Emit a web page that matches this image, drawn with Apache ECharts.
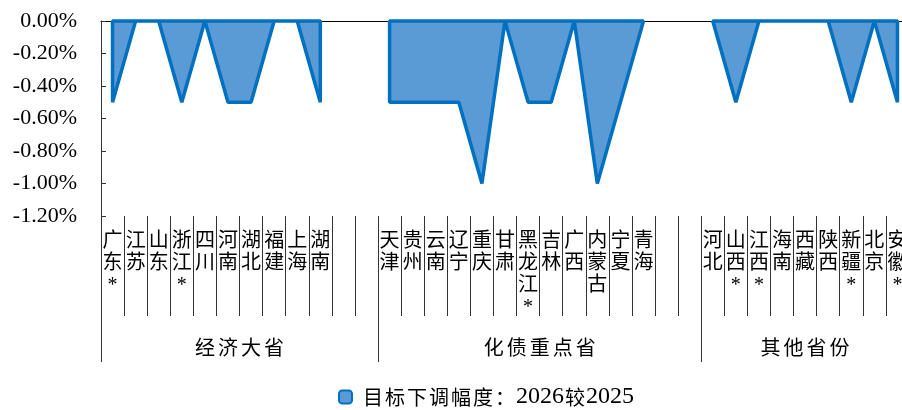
<!DOCTYPE html>
<html><head><meta charset="utf-8">
<script src="https://cdn.jsdelivr.net/npm/echarts@6/dist/echarts.min.js"></script>
<style>html,body{margin:0;padding:0;background:#fff}#c{width:902px;height:410px}</style>
</head><body><div id="c"></div>
<script>
// ---- data ----
const provinces = ['广东*','江苏','山东','浙江*','四川','河南','湖北','福建','上海','湖南','','',
  '天津','贵州','云南','辽宁','重庆','甘肃','黑龙江*','吉林','广西','内蒙古','宁夏','青海','','',
  '河北','山西*','江西*','海南','西藏','陕西','新疆*','北京','安徽*'];
const values = [-0.5,0,0,-0.5,0,-0.5,-0.5,0,0,-0.5,null,null,
  -0.5,-0.5,-0.5,-0.5,-1.0,0,-0.5,-0.5,0,-1.0,-0.5,0,null,null,
  0,-0.5,0,0,0,0,-0.5,0,-0.5];
const groupNames = ['经济大省','化债重点省','其他省份'];
const groupSizes = [12,14,9];
const yMin = -1.2, yMax = 0, yStep = 0.2;
const seriesName = '目标下调幅度：2026较2025';

// ---- derived helpers (group axis on a half-category grid) ----
const total = groupSizes.reduce((a,b)=>a+b,0);
const halfCats = new Array(total*2+1).fill('');
const groupBoundaries = [];
let s = 0;
groupSizes.forEach((n,g)=>{
  groupBoundaries.push(2*s);
  halfCats[2*s+n] = groupNames[g];
  s += n;
});
groupBoundaries.push(2*total);

const serif = '"Liberation Serif","Noto Sans CJK SC",serif';
const cjk = '"Noto Sans CJK SC",sans-serif';
const tickColor = '#333';

// rich-text helpers: CJK chars in fixed-pitch boxes, digits in serif
function richSplit(str, cjkKey, latKey){
  let out = '';
  for (const ch of str) {
    if (/[0-9A-Za-z.%]/.test(ch)) out += '{'+latKey+'|'+ch+'}';
    else out += '{'+cjkKey+'|'+ch+'}';
  }
  return out;
}

const chart = echarts.init(document.getElementById('c'));
chart.setOption({
  animation:false,
  grid:{left:101, top:21, width:808, height:195, containLabel:false, outerBoundsMode:'none'},
  legend:{
    left:338, top:385, padding:0, itemWidth:13, itemHeight:13, itemGap:8,
    formatter:(n)=>'{sp|}'+richSplit(n,'c','d'),
    textStyle:{color:'#000', rich:{
      sp:{width:5},
      c:{fontFamily:cjk, fontSize:20, width:22, align:'center', color:'#000'},
      d:{fontFamily:'"Liberation Serif",serif', fontSize:24, color:'#000'}}},
    data:[{name:seriesName, icon:'roundRect',
      itemStyle:{color:'#5B9BD5', borderColor:'#0070C0', borderWidth:2}}]
  },
  xAxis:[
    {type:'category', data:provinces, position:'bottom', boundaryGap:true,
     axisLine:{onZero:true, lineStyle:{color:'#000', width:1}},
     axisTick:{inside:true, length:6, interval:0, lineStyle:{color:tickColor}},
     axisLabel:{show:false}, splitLine:{show:false}},
    {type:'category', data:provinces, position:'bottom', boundaryGap:true,
     axisLine:{show:false, onZero:false},
     axisTick:{show:true, inside:false, length:100, interval:0, lineStyle:{color:tickColor}},
     axisLabel:{interval:0, margin:15, fontFamily:serif, fontSize:20, lineHeight:22,
       color:'#000', verticalAlign:'top',
       formatter:v=>v.split('').join('\n')}},
    {type:'category', data:halfCats, position:'bottom', boundaryGap:false,
     axisLine:{show:false, onZero:false},
     axisTick:{show:true, inside:false, length:146,
       interval:(i)=>groupBoundaries.indexOf(i)>=0, lineStyle:{color:tickColor}},
     axisLabel:{interval:(i,v)=>v!=='', margin:121, verticalAlign:'top',
       formatter:v=>richSplit(v,'g','g'),
       rich:{g:{fontFamily:cjk, fontSize:20, width:23, align:'center', color:'#000'}}}}
  ],
  yAxis:{type:'value', min:yMin, max:yMax, interval:yStep,
    axisLine:{show:true, lineStyle:{color:tickColor}},
    axisTick:{show:true, inside:true, length:5, lineStyle:{color:tickColor}},
    splitLine:{show:false},
    axisLabel:{margin:24, fontFamily:serif, fontSize:22, color:'#000',
      formatter:v=>(Math.abs(v)<1e-9?0:v).toFixed(2)+'%'}},
  series:[{
    name:seriesName, type:'custom', xAxisIndex:0, yAxisIndex:0,
    itemStyle:{color:'#5B9BD5', borderColor:'#0070C0', borderWidth:2},
    data: values.map((v,i)=>[i, v]),
    encode:{x:0, y:1},
    renderItem:function(params, api){
      const i = params.dataIndex;
      if (values[i]===null || (i>0 && values[i-1]!==null)) return null;
      let j = i;
      while (j+1<values.length && values[j+1]!==null) j++;
      const pts = [];
      for (let k=i;k<=j;k++) pts.push(api.coord([k, values[k]]));
      pts.push(api.coord([j, 0]));
      pts.push(api.coord([i, 0]));
      return {type:'polygon', shape:{points:pts},
        style:{fill:'#5B9BD5', stroke:'#0070C0', lineWidth:3.5, lineJoin:'bevel'}};
    }
  }]
});
</script></body></html>
